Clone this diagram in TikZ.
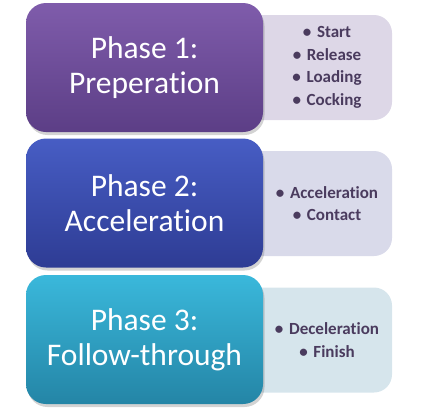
\documentclass[tikz,border=0pt]{standalone}
\usepackage{fontspec}
\setmainfont{Carlito}[Ligatures={NoCommon}]
\usepackage{tikz}
\usetikzlibrary{shadows, positioning}

\definecolor{phaseA top}{HTML}{7F5CAB}
\definecolor{phaseA bot}{HTML}{5C3E86}
\definecolor{phaseB top}{HTML}{475DC4}
\definecolor{phaseB bot}{HTML}{2E3C94}
\definecolor{phaseC top}{HTML}{3AB8DB}
\definecolor{phaseC bot}{HTML}{2485A6}
\definecolor{sideA}{HTML}{DDD7E7}
\definecolor{sideB}{HTML}{D9DAEA}
\definecolor{sideC}{HTML}{D6E5EC}
\definecolor{listtext}{HTML}{4A3B5E}

\begin{document}
\begin{tikzpicture}[x=1pt, y=-1pt,
    phase/.style={rectangle, rounded corners=20pt, minimum width=237pt, minimum height=129pt,
      text=white, align=center, font=\fontsize{31.5}{35}\selectfont,
      drop shadow={shadow xshift=1.5pt, shadow yshift=-3pt, opacity=0.35}},
    steps/.style={rectangle, rounded corners=18pt, minimum width=152pt, minimum height=105pt,
      text=listtext, align=center, font=\fontsize{17}{22.5}\selectfont\bfseries}]
  \useasboundingbox (0,0) rectangle (425,415);

  % side lists first, so the phase boxes sit over them
  \node[steps, fill=sideA, text width=140pt] (listA) at (316,67.5) {\hspace*{22pt}• Start\\\hspace*{22pt}• Release\\\hspace*{22pt}• Loading\\\hspace*{22pt}• Cocking};
  \node[steps, fill=sideB, text width=140pt] (listB) at (316,203.5) {\hspace*{22pt}• Acceleration\\\hspace*{22pt}• Contact};
  \node[steps, fill=sideC, text width=140pt] (listC) at (316,340) {\hspace*{22pt}• Deceleration\\\hspace*{22pt}• Finish};

  \node[phase, top color=phaseA top, bottom color=phaseA bot] (phaseA) at (144.5,67.5) {Phase 1:\\Preperation};
  \node[phase, top color=phaseB top, bottom color=phaseB bot] (phaseB) at (144.5,203) {Phase 2:\\Acceleration};
  \node[phase, top color=phaseC top, bottom color=phaseC bot] (phaseC) at (144.5,339.5) {Phase 3:\\Follow-through};
\end{tikzpicture}
\end{document}
